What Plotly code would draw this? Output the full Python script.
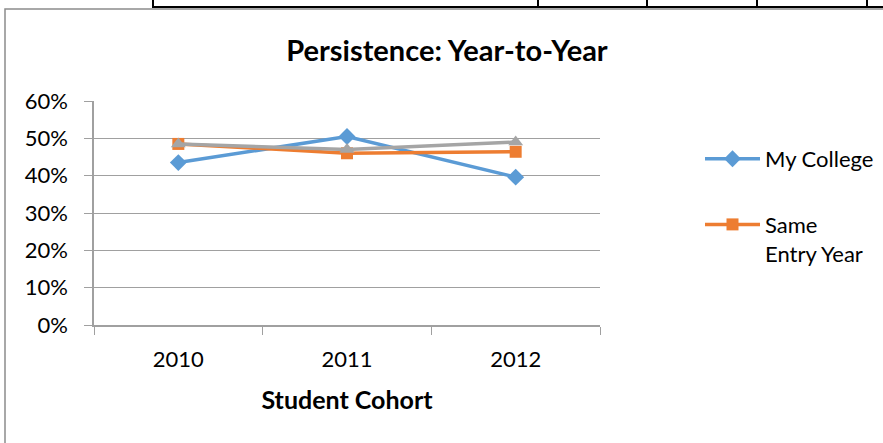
import plotly.graph_objects as go

cohorts = ["2010", "2011", "2012"]
my_college = [0.435, 0.505, 0.396]
same_entry_year = [0.485, 0.460, 0.464]
third_series = [0.485, 0.470, 0.490]
y_ticks = [0, 0.1, 0.2, 0.3, 0.4, 0.5, 0.6]

FONT = "Lato, 'Noto Sans', sans-serif"

L, R, T, B = 94, 600, 101, 325
W, H = 883, 443
def px(x):
    return (x - L) / (R - L)
def py(y):
    return (B - y) / (B - T)

fig = go.Figure()
fig.add_trace(go.Scatter(x=cohorts, y=my_college, name="My College", mode="lines+markers",
                         legendgroup="a",
                         line=dict(color="#5B9BD5", width=3.5),
                         marker=dict(symbol="diamond", size=13, color="#5B9BD5")))
fig.add_trace(go.Scatter(x=cohorts, y=same_entry_year, name="Same<br>Entry Year", mode="lines+markers",
                         legendgroup="b",
                         line=dict(color="#ED7D31", width=3.5),
                         marker=dict(symbol="square", size=12, color="#ED7D31")))
fig.add_trace(go.Scatter(x=cohorts, y=third_series, name="Peer", mode="lines+markers",
                         showlegend=False, legendgroup="c",
                         line=dict(color="#A5A5A5", width=3.5),
                         marker=dict(symbol="triangle-up", size=13, color="#A5A5A5")))

shapes = [
    dict(type="rect", xref="paper", yref="paper", x0=px(5), x1=px(895), y0=py(460), y1=py(9),
         line=dict(color="#8c8c8c", width=1.5), layer="below"),
    dict(type="line", xref="paper", yref="paper", x0=px(152), x1=px(890), y0=py(7), y1=py(7),
         line=dict(color="black", width=2)),
]
for vx in [153, 538, 647, 757, 867]:
    shapes.append(dict(type="line", xref="paper", yref="paper", x0=px(vx), x1=px(vx), y0=py(-5), y1=py(7),
                       line=dict(color="black", width=2)))

fig.update_layout(
    width=W, height=H,
    margin=dict(l=L, r=W - R, t=T, b=H - B, pad=0, autoexpand=False),
    paper_bgcolor="white", plot_bgcolor="white",
    font=dict(family=FONT, size=22, color="black"),
    title=dict(text="<b>Persistence: Year-to-Year</b>", xref="container", x=447 / W, xanchor="center",
               yref="container", y=1 - 51 / H, yanchor="middle", font=dict(size=29, family=FONT)),
    xaxis=dict(type="category", range=[-0.5, 2.5], tickson="boundaries", ticks="outside",
               ticklen=8, tickcolor="#a0a0a0", showline=True, linecolor="#a0a0a0", linewidth=1.5,
               showgrid=False, tickfont=dict(size=22), ticklabelstandoff=14,
               title=dict(text="<b>Student Cohort</b>", font=dict(size=25), standoff=20)),
    yaxis=dict(range=[0, 0.6], tickvals=y_ticks, tickformat=".0%", ticks="outside", ticklen=8,
               tickcolor="#a0a0a0", showline=True, linecolor="#a0a0a0", linewidth=1.5,
               showgrid=True, gridcolor="#a0a0a0", gridwidth=1.2, zeroline=False,
               tickfont=dict(size=22), ticklabelstandoff=12),
    legend=dict(x=px(700), y=py(138), xanchor="left", yanchor="top", font=dict(size=22),
                tracegroupgap=34, valign="top", itemwidth=55, bgcolor="rgba(0,0,0,0)"),
    shapes=shapes,
)

fig.write_html("out.html", config={"displayModeBar": False},
               post_script="document.body.style.margin='0';document.body.style.overflow='hidden';")
